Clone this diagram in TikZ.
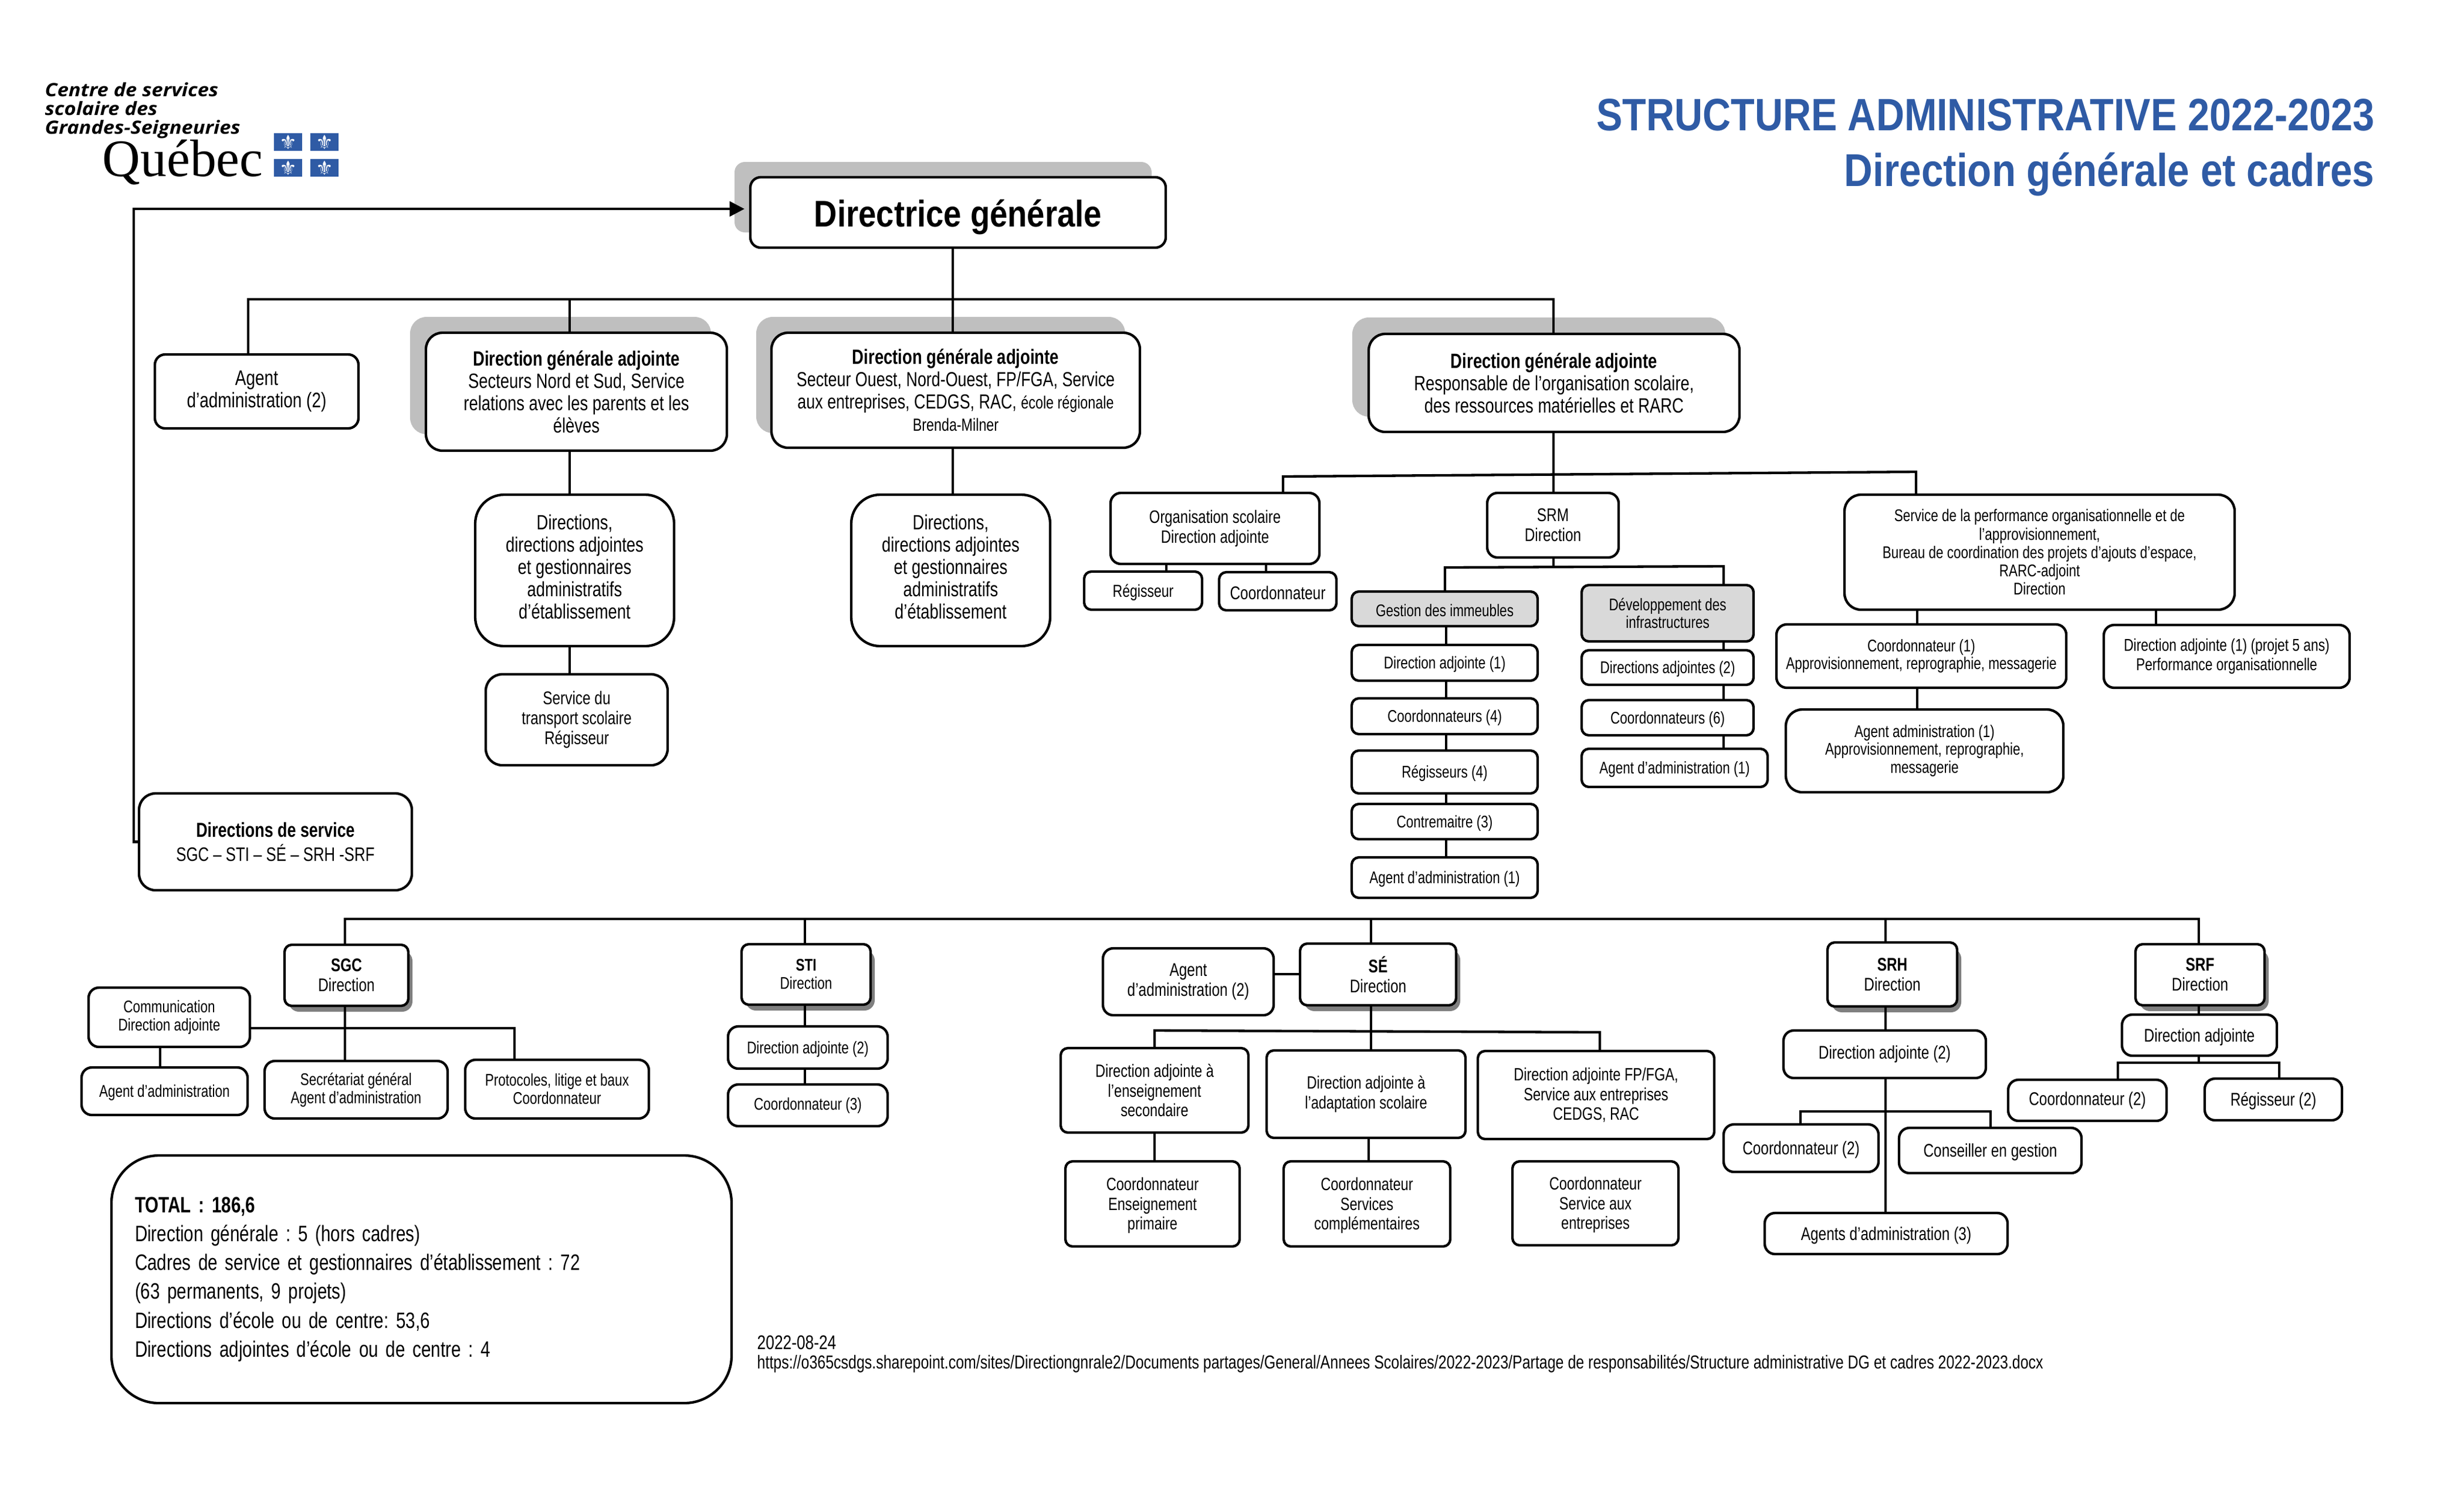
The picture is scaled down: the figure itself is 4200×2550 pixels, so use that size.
\documentclass[tikz,border=0pt]{standalone}
\usepackage{fontspec}
\usetikzlibrary{arrows.meta}
\setmainfont[FakeStretch=0.78]{Liberation Sans}
\newfontfamily\headfont[FakeStretch=0.86]{Liberation Sans}
\newfontfamily\logofont[FakeStretch=1.1]{Open Sans}
\newfontfamily\quefont{Liberation Serif}
\newfontfamily\lisfont{DejaVu Sans}
\definecolor{blu}{HTML}{2F5BA5}
\definecolor{shadelight}{HTML}{BFBFBF}
\definecolor{shadedark}{HTML}{7F7F7F}
\definecolor{panelgray}{HTML}{D9D9D9}
\newcommand\fsz[2]{\fontsize{#1}{#2}\selectfont}
\newcommand\dn[1]{\rule[-#1]{0pt}{0pt}}
\newcommand\up{\rule{0pt}{.92em}}
\frenchspacing
\tikzset{
  box/.style={draw=black,line width=1.22pt,fill=white,inner sep=0pt,outer sep=0pt,align=center,rounded corners=5pt,font=\fsz{8.2}{9.2}},
  rA/.style={rounded corners=3.5pt},
  rB/.style={rounded corners=8pt},
  rC/.style={rounded corners=14pt},
  big/.style={font=\fsz{10}{10.8}},
  mid/.style={font=\fsz{8.9}{9.7}},
  small/.style={font=\fsz{8.2}{8.8}},
  panel/.style={fill=panelgray},
  conn/.style={draw=black,line width=1.22pt},
  softshade/.style={fill=shadelight,rounded corners=8pt},
  hardshade/.style={fill=shadedark,rounded corners=5pt},
  titletext/.style={anchor=base east,inner sep=0pt,text=blu,font=\headfont\bfseries\fsz{22.3}{24}},
  logoline/.style={anchor=base west,inner sep=0pt,font=\logofont\bfseries\itshape\fsz{8.9}{9}},
}
\newcommand\bx[7][]{\node[box,#1,minimum width={(#5-#3)*0.01cm},minimum height={(#6-#4)*0.01cm}] (#2) at ({(#3+#5)/2},{(#4+#6)/2}) {#7};}
\begin{document}
\begin{tikzpicture}[x=0.01cm,y=-0.01cm]
\useasboundingbox (0,0) rectangle (4200,2550);
% logo
\node[logoline] (logoa) at (76,164) {Centre de services};
\node[logoline] (logob) at (76,196) {scolaire des};
\node[logoline] (logoc) at (76,228) {Grandes-Seigneuries};
\node[anchor=base west,inner sep=0pt,font=\quefont\fsz{25.5}{26}] (quebec) at (174,300) {Québec};
\foreach \fx/\fy in {467/227,529/227,467/271,529/271}{
  \fill[blu] (\fx,\fy) rectangle +(48,30);
  \node[text=white,font=\lisfont\fsz{9.5}{10},inner sep=0pt] at (\fx+24,\fy+15) {⚜};
}
% titles
\node[titletext,font=\headfont\bfseries\fsz{22}{24}] (t1) at (4048,222) {STRUCTURE ADMINISTRATIVE 2022-2023};
\node[titletext] (t2) at (4048,317) {Direction générale et cadres};
% shadows
\fill[softshade,rounded corners=5pt] (1252,276) rectangle (1963,396);
\fill[softshade] (699,540) rectangle (1212,740);
\fill[softshade] (1289,540) rectangle (1918,738);
\fill[softshade] (2305,541) rectangle (2941,710);
\foreach \xa/\ya/\xb/\yb in {485/1610/696/1714,1264/1609/1484/1712,2216/1608/2482/1713,3115/1606/3336/1715,3640/1609/3860/1713}{
  \fill[hardshade] (\xa+7,\ya+10) rectangle (\xb+7,\yb+10);
}
% top boxes
\bx[font=\headfont\bfseries\fsz{18}{19},text height=16pt,text depth=2pt]{dg}{1279}{302}{1987}{422}{Directrice générale}
\bx[big,font=\fsz{10.2}{10.8}]{agadm}{264}{604}{611}{730}{Agent\\d’administration (2)}
\bx[big,rB]{dga1}{726}{567}{1239}{768}{\textbf{Direction générale adjointe}\\Secteurs Nord et Sud, Service\\relations avec les parents et les\\élèves}
\bx[rB,font=\fsz{9.8}{10.8}]{dga2}{1315}{567}{1943}{763}{\textbf{\fsz{10}{10.8}Direction générale adjointe}\\Secteur Ouest, Nord-Ouest, FP/FGA, Service\\aux entreprises, CEDGS, RAC, {\fsz{8.5}{10.8}école régionale}\\{\fsz{8.5}{10.8}Brenda-Milner}}
\bx[big,rB]{dga3}{2333}{569}{2965}{736}{\textbf{Direction générale adjointe}\\Responsable de l’organisation scolaire,\\des ressources matérielles et RARC}
\bx[big,rC]{dir1}{810}{843}{1149}{1101}{Directions,\\directions adjointes\\et gestionnaires\\administratifs\\d’établissement\dn{3.6pt}}
\bx[big,rC]{dir2}{1451}{843}{1790}{1101}{Directions,\\directions adjointes\\et gestionnaires\\administratifs\\d’établissement\dn{3.6pt}}
\bx[mid,rB]{transp}{828}{1149}{1138}{1304}{Service du\\transport scolaire\\Régisseur}
\bx[rB,font=\fsz{9.4}{11.8}]{dsvc}{237}{1352}{702}{1517}{\textbf{\fsz{9.8}{11.8}Directions de service}\\SGC – STI – SÉ – SRH -SRF}
% organisation scolaire
\bx[font=\fsz{8.7}{9.7}]{org}{1893}{840}{2249}{961}{Organisation scolaire\\Direction adjointe}
\bx[rA,font=\fsz{8.4}{9.7}]{orgr}{1848}{974}{2049}{1039}{\up Régisseur}
\bx[mid,rA]{orgc}{2078}{975}{2278}{1040}{\up Coordonnateur}
\bx[mid]{srm}{2535}{840}{2759}{950}{SRM\\Direction}
\bx[rB,font=\fsz{8.2}{8.9}]{perf}{3144}{843}{3809}{1039}{Service de la performance organisationnelle et de\\l’approvisionnement,\\Bureau de coordination des projets d’ajouts d’espace,\\RARC-adjoint\\Direction}
% gestion col
\bx[small,rA,panel]{gest}{2304}{1008}{2621}{1067}{\up Gestion des immeubles}
\bx[small,rA]{g1}{2304}{1099}{2621}{1160}{\up Direction adjointe (1)}
\bx[small,rA]{g2}{2304}{1190}{2621}{1251}{\up Coordonnateurs (4)}
\bx[small,rA]{g3}{2304}{1279}{2621}{1352}{\up Régisseurs (4)}
\bx[small,rA]{g4}{2304}{1370}{2621}{1430}{\up Contremaitre (3)}
\bx[small,rA]{g5}{2304}{1461}{2621}{1530}{\up Agent d’administration (1)}
% dev col
\bx[small,rA,panel]{dev}{2696}{997}{2989}{1093}{Développement des\\infrastructures}
\bx[small,rA]{d1}{2696}{1108}{2989}{1167}{\up Directions adjointes (2)}
\bx[small,rA]{d2}{2696}{1193}{2989}{1253}{\up Coordonnateurs (6)}
\bx[small,rA]{d3}{2696}{1276}{3013}{1341}{\up Agent d’administration (1)}
% perf col
\bx[small]{pc}{3028}{1064}{3522}{1172}{Coordonnateur (1)\\Approvisionnement, reprographie, messagerie}
\bx[font=\fsz{8.3}{9.2}]{pd}{3586}{1065}{4005}{1172}{Direction adjointe (1) (projet 5 ans)\\Performance organisationnelle}
\bx[small,rB]{pa}{3044}{1209}{3517}{1350}{Agent administration (1)\\Approvisionnement, reprographie,\\messagerie}
% SGC
\bx[mid,rA]{sgc}{485}{1610}{696}{1714}{\textbf{SGC}\\Direction}
\bx[small]{comm}{151}{1683}{426}{1784}{Communication\\Direction adjointe}
\bx[small]{sga}{139}{1819}{422}{1900}{\up Agent d’administration}
\bx[small]{sec}{451}{1808}{763}{1906}{Secrétariat général\\Agent d’administration}
\bx[small]{prot}{793}{1806}{1106}{1906}{Protocoles, litige et baux\\Coordonnateur}
% STI
\bx[small,rA]{sti}{1264}{1609}{1484}{1712}{\textbf{STI}\\Direction}
\bx[small]{sti1}{1241}{1749}{1513}{1821}{\up Direction adjointe (2)}
\bx[small]{sti2}{1241}{1848}{1513}{1919}{Coordonnateur (3)}
% SE
\bx[mid]{agse}{1880}{1616}{2171}{1730}{Agent\\d’administration (2)}
\bx[mid,rA]{se}{2216}{1608}{2482}{1713}{\textbf{SÉ}\\Direction}
\bx[rA,font=\fsz{8.6}{9.5}]{se1}{1808}{1786}{2128}{1930}{Direction adjointe à\\l’enseignement\\secondaire}
\bx[rA,font=\fsz{8.6}{9.5}]{se2}{2159}{1790}{2498}{1939}{Direction adjointe à\\l’adaptation scolaire}
\bx[rA,font=\fsz{8.6}{9.5}]{se3}{2519}{1791}{2922}{1941}{Direction adjointe FP/FGA,\\Service aux entreprises\\CEDGS, RAC}
\bx[rA,font=\fsz{8.6}{9.5}]{se4}{1816}{1979}{2113}{2124}{\up Coordonnateur\\Enseignement\\primaire}
\bx[rA,font=\fsz{8.6}{9.5}]{se5}{2188}{1979}{2472}{2124}{\up Coordonnateur\\Services\\complémentaires}
\bx[rA,font=\fsz{8.6}{9.5}]{se6}{2578}{1979}{2861}{2122}{\up Coordonnateur\\Service aux\\entreprises}
% SRH
\bx[mid,rA]{srh}{3115}{1606}{3336}{1715}{\textbf{SRH}\\Direction}
\bx[mid]{srh1}{3040}{1756}{3385}{1837}{Direction adjointe (2)}
\bx[mid]{srh2}{2938}{1916}{3202}{1997}{\up Coordonnateur (2)}
\bx[mid]{srh3}{3237}{1922}{3548}{1999}{\up Conseiller en gestion}
\bx[mid]{srh4}{3008}{2067}{3422}{2137}{\up Agents d’administration (3)}
% SRF
\bx[mid,rA]{srf}{3640}{1609}{3860}{1713}{\textbf{SRF}\\Direction}
\bx[mid]{srf1}{3617}{1729}{3881}{1799}{\up Direction adjointe}
\bx[mid]{srf2}{3423}{1840}{3693}{1910}{Coordonnateur (2)}
\bx[mid]{srf3}{3758}{1838}{3992}{1909}{\up Régisseur (2)}
% total
\node[box,rounded corners=23pt,minimum width={1057*0.01cm},minimum height={422*0.01cm},text width={977*0.01cm},align=left,font=\fsz{10.8}{14}] (total) at (718.5,2180) {\textbf{TOTAL : 186,6}\\Direction générale : 5 (hors cadres)\\Cadres de service et gestionnaires d’établissement : 72\\(63 permanents, 9 projets)\\Directions d’école ou de centre: 53,6\\Directions adjointes d’école ou de centre : 4};
% footer
\node[anchor=base west,inner sep=0pt,font=\fsz{9.6}{10.4}] (date) at (1290,2299) {2022-08-24};
\node[anchor=base west,inner sep=0pt,font=\fsz{9.1}{10}] (url) at (1290,2332) {https://o365csdgs.sharepoint.com/sites/Directiongnrale2/Documents partages/General/Annees Scolaires/2022-2023/Partage de responsabilités/Structure administrative DG et cadres 2022-2023.docx};
% connectors top
\coordinate (busL) at (423,510); \coordinate (busR) at (2648,510);
\coordinate (b1) at (971,510); \coordinate (b2) at (1624,510);
\coordinate (lft) at (228,356);
\draw[conn,-{Triangle[length=7.2pt,width=7.2pt]},shorten >=10*0.01cm] (dsvc.west) -- (dsvc.west -| lft) -- (lft) -- (lft -| dg.west);
\draw[conn] (b2 |- dg.south) -- (b2);
\draw[conn] (agadm.north -| busL) -- (busL) -- (busR) -- (dga3.north -| busR);
\draw[conn] (b1) -- (b1 |- dga1.north);
\draw[conn] (b2) -- (b2 |- dga2.north);
\draw[conn] (b1 |- dga1.south) -- (b1 |- dir1.north);
\draw[conn] (b1 |- dir1.south) -- (b1 |- transp.north);
\draw[conn] (b2 |- dga2.south) -- (b2 |- dir2.north);
% connectors srm
\coordinate (o1) at (2187,812); \coordinate (o2) at (3266,804);
\draw[conn] (busR |- dga3.south) -- (busR |- srm.north);
\draw[conn] (org.north -| o1) -- (o1) -- (o2) -- (perf.north -| o2);
\coordinate (ox1) at (1988,0); \coordinate (ox2) at (2158,0);
\draw[conn] (ox1 |- org.south) -- (ox1 |- orgr.north);
\draw[conn] (ox2 |- org.south) -- (ox2 |- orgc.north);
\coordinate (h1) at (2463,967); \coordinate (h2) at (2938,965);
\draw[conn] (busR |- srm.south) -- (2648,966);
\draw[conn] (gest.north -| h1) -- (h1) -- (h2) -- (dev.north -| h2);
\coordinate (gx) at (2465,0);
\draw[conn] (gx |- gest.south) -- (gx |- g1.north);
\draw[conn] (gx |- g1.south) -- (gx |- g2.north);
\draw[conn] (gx |- g2.south) -- (gx |- g3.north);
\draw[conn] (gx |- g3.south) -- (gx |- g4.north);
\draw[conn] (gx |- g4.south) -- (gx |- g5.north);
\draw[conn] (h2 |- dev.south) -- (h2 |- d1.north);
\draw[conn] (h2 |- d1.south) -- (h2 |- d2.north);
\draw[conn] (h2 |- d2.south) -- (h2 |- d3.north);
\coordinate (px) at (3268,0); \coordinate (py) at (3675,0);
\draw[conn] (px |- perf.south) -- (px |- pc.north);
\draw[conn] (py |- perf.south) -- (py |- pd.north);
\draw[conn] (px |- pc.south) -- (px |- pa.north);
% bottom bus
\coordinate (sL) at (588,1566); \coordinate (sR) at (3748,1566);
\coordinate (s2) at (1372,1566); \coordinate (s3) at (2337,1566); \coordinate (s4) at (3214,1566);
\draw[conn] (sgc.north -| sL) -- (sL) -- (sR) -- (srf.north -| sR);
\draw[conn] (s2) -- (s2 |- sti.north);
\draw[conn] (s3) -- (s3 |- se.north);
\draw[conn] (s4) -- (s4 |- srh.north);
% SGC
\coordinate (sg) at (877,1752);
\draw[conn] (sL |- sgc.south) -- (sL |- sec.north);
\draw[conn] (comm.east |- sg) -- (sg) -- (sg |- prot.north);
\coordinate (cx) at (273,0);
\draw[conn] (cx |- comm.south) -- (cx |- sga.north);
% STI
\draw[conn] (s2 |- sti.south) -- (s2 |- sti1.north);
\draw[conn] (s2 |- sti1.south) -- (s2 |- sti2.north);
% SE
\draw[conn] (agse.east |- 0,1660) -- (se.west |- 0,1660);
\coordinate (e1) at (1968,1756); \coordinate (e2) at (2727,1759);
\draw[conn] (s3 |- se.south) -- (s3 |- se2.north);
\draw[conn] (se1.north -| e1) -- (e1) -- (e2) -- (se3.north -| e2);
\draw[conn] (e1 |- se1.south) -- (e1 |- se4.north);
\coordinate (e3) at (2333,0);
\draw[conn] (e3 |- se2.south) -- (e3 |- se5.north);
% SRH
\draw[conn] (s4 |- srh.south) -- (s4 |- srh1.north);
\draw[conn] (s4 |- srh1.south) -- (s4 |- srh4.north);
\coordinate (r1) at (3069,1894); \coordinate (r2) at (3393,1894);
\draw[conn] (srh2.north -| r1) -- (r1) -- (r2) -- (srh3.north -| r2);
% SRF
\draw[conn] (sR |- srf.south) -- (sR |- srf1.north);
\coordinate (f0) at (3748,1811); \coordinate (f1) at (3610,1811); \coordinate (f2) at (3885,1811);
\draw[conn] (sR |- srf1.south) -- (f0);
\draw[conn] (srf2.north -| f1) -- (f1) -- (f2) -- (srf3.north -| f2);
\end{tikzpicture}
\end{document}
